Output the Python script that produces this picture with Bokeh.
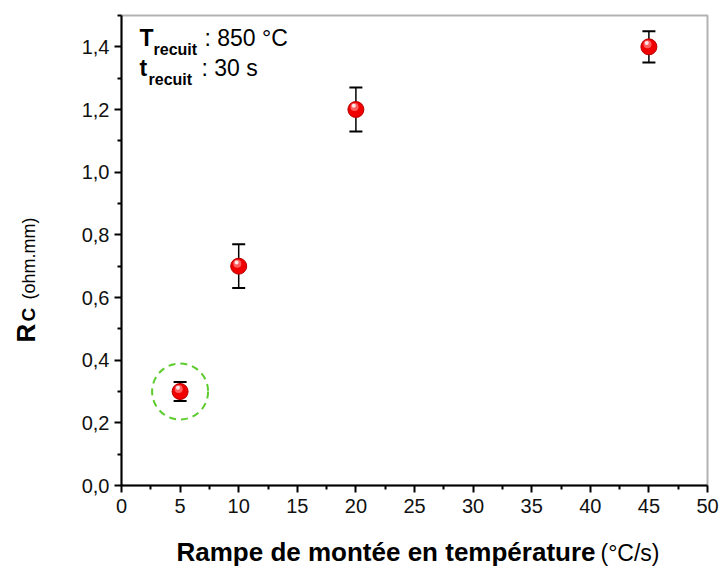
import math
from bokeh.plotting import figure
from bokeh.models import (ColumnDataSource, Whisker, TeeHead, Label, Range1d,
                          FixedTicker, CustomJSTickFormatter, LinearAxis,
                          BoxAnnotation)
from bokeh.transform import dodge
from bokeh.embed import file_html
from bokeh.resources import INLINE

# ---- data ----
ramp = [5, 10, 20, 45]                 # °C/s
rc = [0.30, 0.70, 1.20, 1.40]          # ohm.mm
rc_err = [0.03, 0.07, 0.07, 0.05]
highlight_ramp = [5]
highlight_rc = [0.30]
x_ticks = [0, 5, 10, 15, 20, 25, 30, 35, 40, 45, 50]
y_ticks = [0.0, 0.2, 0.4, 0.6, 0.8, 1.0, 1.2, 1.4]
x_lim = (0, 50)
y_lim = (0, 1.5)

FONT = "Liberation Sans"
W, H = 722, 568
# plot-box margins (pixels) inside the canvas
ML, MR, MT, MB = 121, 15, 15, 83
sx = (W - ML - MR) / (x_lim[1] - x_lim[0])
sy = (H - MT - MB) / (y_lim[1] - y_lim[0])
xr = Range1d(x_lim[0] - ML / sx, x_lim[1] + MR / sx)
yr = Range1d(y_lim[0] - MB / sy, y_lim[1] + MT / sy)

p = figure(width=W, height=H, output_backend="svg", toolbar_location=None,
           x_range=xr, y_range=yr, x_axis_location=None, y_axis_location=None,
           min_border=0, min_border_left=0, min_border_right=0,
           min_border_top=0, min_border_bottom=0)
p.xgrid.visible = False
p.ygrid.visible = False
p.outline_line_color = None
p.background_fill_color = "white"
p.border_fill_color = "white"

xaxis = LinearAxis(fixed_location=y_lim[0], bounds=x_lim,
                   ticker=FixedTicker(ticks=x_ticks,
                                      minor_ticks=[v + 2.5 for v in x_ticks[:-1]]),
                   formatter=CustomJSTickFormatter(code="return tick.toFixed(0);"))
yaxis = LinearAxis(fixed_location=x_lim[0], bounds=y_lim,
                   ticker=FixedTicker(ticks=y_ticks,
                                      minor_ticks=[round(v + 0.1, 2) for v in y_ticks]),
                   formatter=CustomJSTickFormatter(
                       code="return tick.toFixed(1).replace('.', ',');"))
for ax in (xaxis, yaxis):
    ax.axis_line_width = 2
    ax.axis_line_color = "black"
    ax.major_tick_line_width = 2
    ax.minor_tick_line_width = 2
    ax.major_tick_out = 7
    ax.major_tick_in = 0
    ax.minor_tick_out = 4
    ax.minor_tick_in = 0
    ax.major_label_text_font = FONT
    ax.major_label_text_font_size = "20px"
    ax.major_label_text_color = "#111111"
xaxis.major_label_standoff = 6
yaxis.major_label_standoff = 5
p.add_layout(xaxis, "below")
p.add_layout(yaxis, "left")

# plot box
p.add_layout(BoxAnnotation(left=x_lim[0], right=x_lim[1], bottom=y_lim[0],
                           top=y_lim[1], fill_color=None, line_color="black",
                           line_width=2))

src = ColumnDataSource(dict(
    x=ramp, y=rc,
    upper=[v + e for v, e in zip(rc, rc_err)],
    lower=[v - e for v, e in zip(rc, rc_err)],
))

wh = Whisker(source=src, base="x", upper="upper", lower="lower",
             line_color="black", line_width=1.5,
             upper_head=TeeHead(size=13, line_width=2, line_color="black"),
             lower_head=TeeHead(size=13, line_width=2, line_color="black"),
             level="underlay")
p.add_layout(wh)

# red sphere markers
p.scatter("x", "y", source=src, size=16, fill_color="#f00000",
          line_color="#b80000", line_width=1)
p.scatter(dodge("x", -0.12, range=p.x_range), dodge("y", 0.008, range=p.y_range),
          source=src, size=8, fill_color="#ff6a6a", line_color=None, fill_alpha=0.9)
p.scatter(dodge("x", -0.18, range=p.x_range), dodge("y", 0.012, range=p.y_range),
          source=src, size=4, fill_color="white", line_color=None, fill_alpha=0.85)

# green dashed highlight circle
p.scatter(highlight_ramp, highlight_rc, size=56, fill_color=None,
          line_color="#5ccc2e", line_width=2, line_dash="7 5")

# text placed by canvas pixel position of its visual baseline
SHIFT = 0.37  # em correction between requested and drawn baseline

def lab(px, py, text, size, bold=False, rotated=False, **kw):
    if rotated:
        px = px - SHIFT * size
    else:
        py = py - SHIFT * size
    l = Label(x=xr.start + px / sx, y=yr.end - py / sy, text=text,
              text_font=FONT, text_font_size=f"{size}px",
              text_font_style="bold" if bold else "normal",
              text_color="black", text_baseline="alphabetic",
              angle=math.pi / 2 if rotated else 0, **kw)
    p.add_layout(l)
    return l

lab(139, 46, "T", 23, True)
lab(153, 55, "recuit", 16, True)
lab(204, 46, ": 850 °C", 23)
lab(139, 76, "t", 23, True)
lab(148, 85, "recuit", 16, True)
lab(201, 76, ": 30 s", 23)

# x axis title (bold part + normal unit)
lab(595, 561, "Rampe de montée en température", 26, True, text_align="right")
lab(600, 561, "(°C/s)", 23, False, text_align="left")

# y axis title (rotated)
lab(35, 342, "R", 26, True, rotated=True, text_align="left")
lab(35, 321, "C", 19, True, rotated=True, text_align="left")
lab(35, 299, "(ohm.mm)", 18, False, rotated=True, text_align="left")

open("out.html", "w").write(file_html(p, INLINE))
